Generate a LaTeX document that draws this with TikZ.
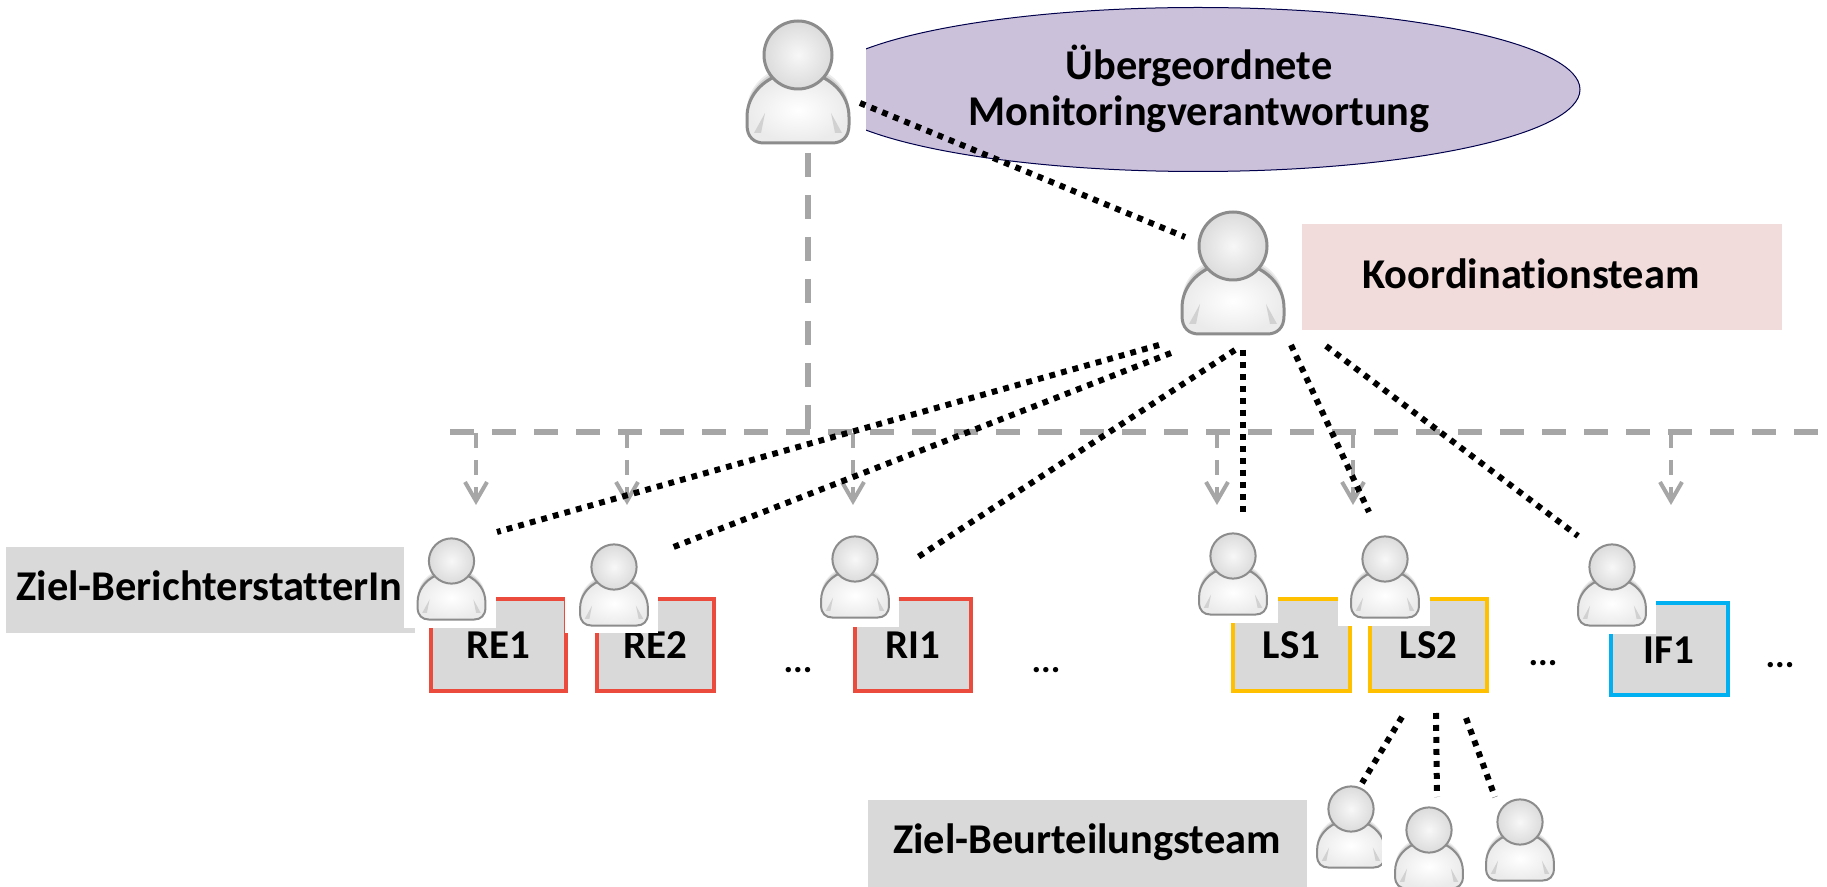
\documentclass[tikz,border=0pt]{standalone}
\usepackage{fontspec}
\setmainfont[Ligatures=NoCommon]{Carlito}
\usetikzlibrary{arrows.meta,shapes.geometric}
\definecolor{greyline}{HTML}{A6A6A6}
\definecolor{boxgrey}{HTML}{D9D9D9}
\definecolor{lilac}{HTML}{CCC1DA}
\definecolor{rosefill}{HTML}{F2DBDB}
\definecolor{redline}{HTML}{EA4B3C}
\definecolor{goldline}{HTML}{FFC000}
\definecolor{blueline}{HTML}{00B0F0}
\newcommand{\bodyshape}{(-24,22) .. controls (-40,30) and (-51,44) .. (-51,62) -- (-51,70) .. controls (-51,82) and (-44,88) .. (-34,88) -- (34,88) .. controls (44,88) and (51,82) .. (51,70) -- (51,62) .. controls (51,44) and (40,30) .. (24,22) -- cycle}
\tikzset{
  every node/.style={inner sep=0pt,outer sep=0pt,font=\bfseries\fontsize{21.2}{25.3}\selectfont,text=black},
  dotline/.style={line width=3pt,black,dash pattern=on 2.9pt off 3.1pt},
  greydash/.style={line width=3pt,greyline,dash pattern=on 12pt off 9pt},
  greyarrow/.style={line width=2pt,greyline,dash pattern=on 7.5pt off 6pt,-{Straight Barb[length=9.5pt,width=11pt,line width=2pt]}},
  textbox/.style={rectangle,fill=boxgrey,line width=2pt,draw=#1,text height=14pt,text depth=0pt,font=\bfseries\fontsize{20.5}{24.5}\selectfont},
  plain/.style={rectangle,fill=#1},
  label/.style={anchor=base,align=center},
  dotslabel/.style={anchor=base,font=\bfseries\fontsize{18}{22}\selectfont},
  patch/.style={fill=white},
  personfig/.pic={
    \fill[black,opacity=.07] [yshift=3.5pt] \bodyshape;
    \fill[black,opacity=.10] [yshift=2.2pt] \bodyshape;
    \fill[black,opacity=.14] [yshift=1pt] \bodyshape;
    \shade[inner color=white,outer color=black!8,draw=black!45,line width=#1] \bodyshape;
    \fill[black!18] (-44,78) -- (-33,58) -- (-37,78) -- cycle;
    \fill[black!18] (44,78) -- (33,58) -- (37,78) -- cycle;
    \shade[inner color=black!3,outer color=black!14,draw=black!45,line width=#1] (0,0) circle [radius=34];
  }
}
\begin{document}
\begin{tikzpicture}[x=0.5pt,y=-0.5pt]
\useasboundingbox[fill=white] (0,0) rectangle (1827,887);
% ellipse, cut at its left by the person's picture
\begin{scope}
  \clip (866,0) rectangle (1827,887);
  \node[ellipse,fill=lilac,draw=black!70!blue,line width=.5pt,minimum width=382pt,minimum height=82pt] (oval) at (1198,89.5) {};
\end{scope}
\node[label] (ovaltxt) at (1199,126) {Übergeordnete\\[-2.3pt]Monitoringverantwortung};
% label rectangles
\node[plain=rosefill,minimum width=240pt,minimum height=53pt] (kbox) at (1542,277) {};
\node[label] (ktxt) at (1531,289) {Koordinationsteam};
\node[plain=boxgrey,minimum width=204.5pt,minimum height=43pt] (zbox) at (210.5,590) {};
\node[label] (ztxt) at (209.5,601) {Ziel-BerichterstatterIn};
\node[plain=boxgrey,minimum width=219.5pt,minimum height=43.5pt] (bbox) at (1087.5,843) {};
\node[label] (btxt) at (1087,853) {Ziel-Beurteilungsteam};
% target boxes
\node[textbox=redline,minimum width=67.5pt,minimum height=46pt] (re1) at (498.5,645) {RE1};
\node[textbox=redline,minimum width=58.5pt,minimum height=46pt] (re2) at (655.5,645) {RE2};
\node[textbox=redline,minimum width=58pt,minimum height=46pt] (ri1) at (913,645) {RI1};
\node[textbox=goldline,minimum width=58.5pt,minimum height=46pt] (ls1) at (1291.5,645) {LS1};
\node[textbox=goldline,minimum width=58.5pt,minimum height=46pt] (ls2) at (1428.7,645) {LS2};
\node[textbox=blueline,minimum width=58.5pt,minimum height=46pt] (if1) at (1669.2,649) {IF1};
\node[dotslabel] (d1) at (798,672) {...};
\node[dotslabel] (d2) at (1046,672) {...};
\node[dotslabel] (d3) at (1543,665) {...};
\node[dotslabel] (d4) at (1780,668) {...};
% persons with their white picture backgrounds
\coordinate (pTop) at (798,55);
\coordinate (pCo) at (1233,246);
\fill[patch] (404,530) rectangle (496,628);
\coordinate (pRE1) at (451.5,561);
\fill[patch] (565,535) rectangle (658,633);
\coordinate (pRE2) at (614,567);
\fill[patch] (812,530) rectangle (899,627);
\coordinate (pRI1) at (855,559);
\fill[patch] (1190,530) rectangle (1278,623);
\coordinate (pLS1) at (1233,556);
\fill[patch] (1338,530) rectangle (1430,626);
\coordinate (pLS2) at (1385,559);
\fill[patch] (1568,535) rectangle (1656,634);
\coordinate (pIF1) at (1612,567);
\coordinate (pB1) at (1351,809);
\coordinate (pB2) at (1429,830);
\coordinate (pB3) at (1520,822);
\pic at (pTop) {personfig=1.5pt};
\pic at (pCo) {personfig=1.5pt};
\pic[scale=.665] at (pRE1) {personfig=1pt};
\pic[scale=.665] at (pRE2) {personfig=1pt};
\pic[scale=.665] at (pRI1) {personfig=1pt};
\pic[scale=.665] at (pLS1) {personfig=1pt};
\pic[scale=.665] at (pLS2) {personfig=1pt};
\pic[scale=.665] at (pIF1) {personfig=1pt};
\pic[scale=.665] at (pB1) {personfig=1pt};
\fill[patch] (1382,795) rectangle (1392,887);
\pic[scale=.665] at (pB2) {personfig=1pt};
\pic[scale=.665] at (pB3) {personfig=1pt};
% grey monitoring lines
\coordinate (vTop) at (808,153);
\coordinate (vEnd) at (808,431);
\coordinate (hL) at (450,432);
\coordinate (hR) at (1827,432);
\draw[greydash] (vTop) -- (vEnd);
\draw[greydash] (hL) -- (hR);
\foreach \n/\x in {a/476,b/627,c/853,d/1217,e/1353,f/1671}{
  \coordinate (s\n) at (\x,433);
  \coordinate (t\n) at (\x,505);
  \draw[greyarrow] (s\n) -- (t\n);
}
% dotted connectors
\foreach \n/\xa/\ya/\xb/\yb in {
  top/860/103/1185/237,
  a/1159/345/497/532,
  b/1171/353/671/548,
  c/1235/350/918/557,
  d/1243/350/1243/512,
  e/1291/345/1369/512,
  f/1326/346/1578/536,
  g/1402/717/1362/783,
  h/1436/713/1437/797,
  i/1466/718/1495/797}{
  \coordinate (from\n) at (\xa,\ya);
  \coordinate (to\n) at (\xb,\yb);
  \draw[dotline] (from\n) -- (to\n);
}
\end{tikzpicture}
\end{document}
